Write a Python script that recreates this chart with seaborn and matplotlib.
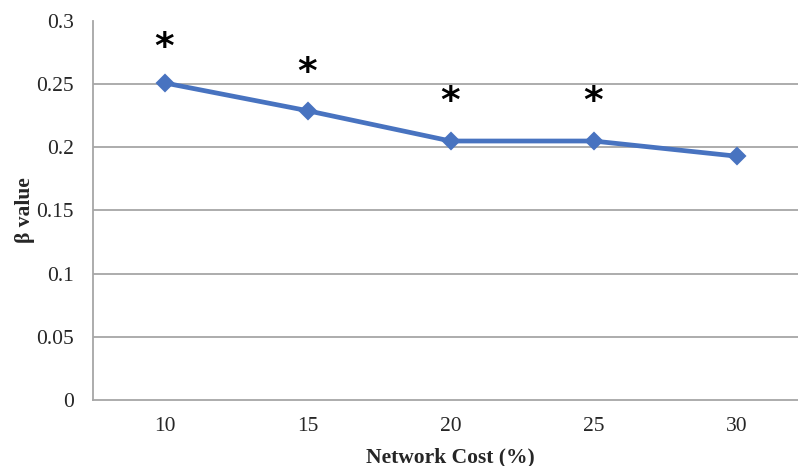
import matplotlib
matplotlib.use("Agg")
import matplotlib.pyplot as plt
import seaborn as sns
import pandas as pd

categories = ["10", "15", "20", "25", "30"]
beta_values = [0.251, 0.229, 0.205, 0.205, 0.193]
star_positions = ["10", "15", "20", "25"]
star_heights = [0.279, 0.259, 0.236, 0.236]
y_ticks = [0, 0.05, 0.1, 0.15, 0.2, 0.25, 0.3]
y_tick_labels = ["0", "0.05", "0.1", "0.15", "0.2", "0.25", "0.3"]

sns.set_style("white")
plt.rcParams['font.family'] = ['Liberation Serif', 'DejaVu Serif']

df = pd.DataFrame({"cost": categories, "beta": beta_values})

fig = plt.figure(figsize=(7.98, 4.66), dpi=100)
ax = fig.add_axes([93/798, 66/466, 715/798, 379/466])

grid_c = "#a6a6a6"
for v in y_ticks[1:-1]:
    ax.axhline(v, color=grid_c, lw=1.3, zorder=0)

sns.pointplot(data=df, x="cost", y="beta", markers="D", color="#4873c0",
              linewidth=3.4, markersize=7, ax=ax, errorbar=None)

ax.set_xlim(-0.5, 4.5)
ax.set_ylim(0, 0.3)

idx = {c: i for i, c in enumerate(categories)}
for c, h in zip(star_positions, star_heights):
    ax.text(idx[c], h, "*", ha="center", va="center", fontsize=27,
            fontweight="bold", family=["DejaVu Sans"], color="black")

ax.set_yticks(y_ticks)
ax.set_yticklabels(y_tick_labels)
ax.set_xticks(range(len(categories)))
ax.set_xticklabels(categories)
ax.set_xticks([i - 0.5 for i in range(len(categories) + 1)], minor=True)
ax.tick_params(axis="x", which="major", length=0, pad=12, labelsize=15.5)
ax.tick_params(axis="x", which="minor", length=6, width=1.2, color=grid_c, direction="in")
ax.tick_params(axis="y", which="major", length=7, width=1.2, color=grid_c,
               direction="out", pad=7, labelsize=15.5)

for s in ["top", "right"]:
    ax.spines[s].set_visible(False)
for s in ["left", "bottom"]:
    ax.spines[s].set_color(grid_c)
    ax.spines[s].set_linewidth(1.3)

ax.set_xlabel("Network Cost (%)", fontsize=15.5, fontweight="bold")
ax.set_ylabel("β value", fontsize=15.5, fontweight="bold")
ax.xaxis.set_label_coords((450 - 93) / 715, (9 - 66) / 379)
ax.xaxis.label.set_va("center")
ax.yaxis.set_label_coords((25 - 93) / 715, 0.5)
ax.yaxis.label.set_va("center")

fig.savefig("out.png", dpi=100)
